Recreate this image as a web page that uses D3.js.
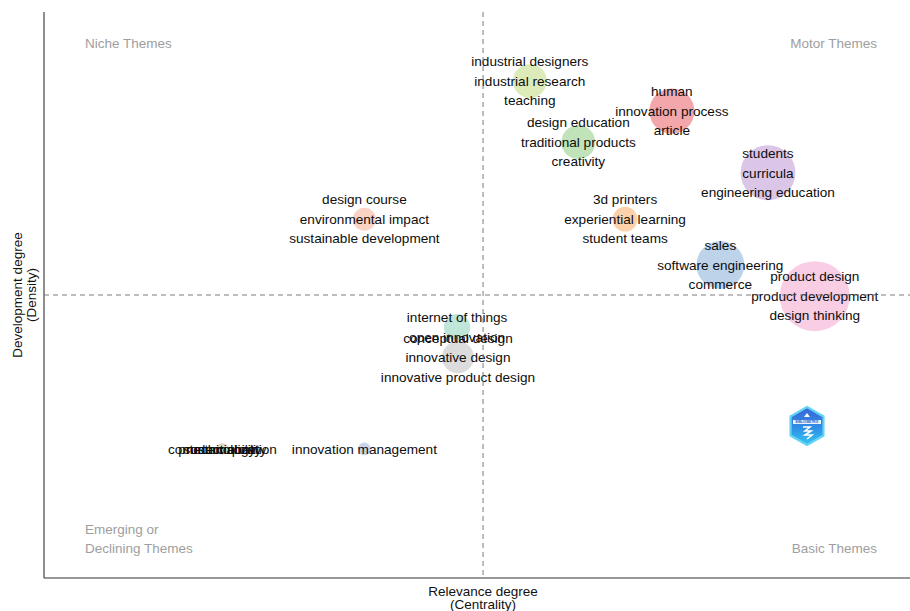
<!DOCTYPE html>
<html>
<head>
<meta charset="utf-8">
<script src="https://cdn.jsdelivr.net/npm/d3@7/dist/d3.min.js"></script>
<style>
  html, body { margin: 0; padding: 0; background: #fff; }
  svg { display: block; font-family: "Liberation Sans", Arial, Helvetica, sans-serif; }
</style>
</head>
<body>
<svg id="chart" width="910" height="611"></svg>
<script>
// Thematic map: each cluster of keywords is placed by centrality (x) and density (y)
const clusterLabels = [
  ["industrial designers", "industrial research", "teaching"],
  ["human", "innovation process", "article"],
  ["design education", "traditional products", "creativity"],
  ["students", "curricula", "engineering education"],
  ["3d printers", "experiential learning", "student teams"],
  ["sales", "software engineering", "commerce"],
  ["product design", "product development", "design thinking"],
  ["design course", "environmental impact", "sustainable development"],
  ["internet of things", "open innovation"],
  ["conceptual design", "innovative design", "innovative product design"],
  ["innovation management"],
  ["commercialization"],
  ["product quality"],
  ["technology"],
  ["sustainability"]
];
const centrality = [5.61, 7.25, 6.17, 8.36, 6.71, 7.81, 8.90, 3.70, 4.77, 4.78, 3.70, 2.06, 2.06, 2.06, 2.06];
const density    = [8.78, 8.25, 7.70, 7.16, 6.34, 5.53, 4.98, 6.34, 4.43, 3.90, 2.28, 2.28, 2.28, 2.28, 2.28];
const frequency  = [28, 50, 28, 74, 15, 56, 120, 13, 17, 25, 4, 3, 3, 2, 2];
const clusterColors = [
  "#dcebb8", "#f3a7aa", "#c0e3ba", "#dcc6e7", "#fdd1aa", "#bdd3ea", "#f9cde4",
  "#fbd3c4", "#bfe6d9", "#dcdcdc", "#c9d5ea", "#f5cfa6", "#e9c3c3", "#d7d7ef", "#d9ecc5"
];
const centralityMean = 5.07;
const densityMean = 5.0;
const quadrantNames = ["Niche Themes", "Motor Themes", "Emerging or\nDeclining Themes", "Basic Themes"];
const axisTitles = { x: ["Relevance degree", "(Centrality)"], y: ["Development degree", "(Density)"] };

const svg = d3.select("#chart");
const plot = { left: 44, right: 910, top: 12, bottom: 578 };

const x = d3.scaleLinear().domain([0, 10]).range([plot.left, plot.right]);
const y = d3.scaleLinear().domain([0, 10]).range([plot.bottom, plot.top]);
const r = d3.scaleSqrt().domain([0, d3.max(frequency)]).range([0, 35]);

const clusters = clusterLabels.map((words, i) => ({
  words, c: centrality[i], d: density[i], f: frequency[i], color: clusterColors[i]
}));

// bubbles
svg.append("g").selectAll("circle")
  .data(clusters)
  .join("circle")
  .attr("cx", d => x(d.c))
  .attr("cy", d => y(d.d))
  .attr("r", d => r(d.f))
  .attr("fill", d => d.color);

// keyword labels, stacked and centred on each bubble
const lineStep = 19.5;
const labelG = svg.append("g")
  .attr("font-size", 13.6)
  .attr("fill", "#0d0d0d")
  .attr("text-anchor", "middle");
clusters.forEach(cl => {
  const n = cl.words.length;
  cl.words.forEach((w, j) => {
    labelG.append("text")
      .attr("x", x(cl.c))
      .attr("y", y(cl.d) + (j - (n - 1) / 2) * lineStep)
      .attr("dy", "0.35em")
      .text(w);
  });
});

// axes frame (left and bottom only)
svg.append("line")
  .attr("x1", plot.left).attr("x2", plot.left)
  .attr("y1", plot.top).attr("y2", plot.bottom)
  .attr("stroke", "#333").attr("stroke-width", 1.1);
svg.append("line")
  .attr("x1", plot.left).attr("x2", plot.right)
  .attr("y1", plot.bottom).attr("y2", plot.bottom)
  .attr("stroke", "#333").attr("stroke-width", 1.1);

// mean reference lines
svg.append("line")
  .attr("x1", plot.left).attr("x2", plot.right)
  .attr("y1", y(densityMean)).attr("y2", y(densityMean))
  .attr("stroke", "#6e6e6e").attr("stroke-width", 0.9)
  .attr("stroke-dasharray", "5,4");
svg.append("line")
  .attr("x1", x(centralityMean)).attr("x2", x(centralityMean))
  .attr("y1", plot.top).attr("y2", plot.bottom)
  .attr("stroke", "#6e6e6e").attr("stroke-width", 0.9)
  .attr("stroke-dasharray", "5,4");

// quadrant names
const qG = svg.append("g").attr("font-size", 13.5).attr("fill", "#9e9e9e");
function multiline(g, txt, px, py, anchor) {
  txt.split("\n").forEach((t, k) => {
    g.append("text").attr("x", px).attr("y", py + k * 19.3)
      .attr("dy", "0.35em").attr("text-anchor", anchor).text(t);
  });
}
multiline(qG, quadrantNames[0], 85, 43, "start");
multiline(qG, quadrantNames[1], 877, 43, "end");
multiline(qG, quadrantNames[2], 85, 529, "start");
multiline(qG, quadrantNames[3], 877, 548, "end");

// axis titles
const tG = svg.append("g").attr("font-size", 13.5).attr("fill", "#111").attr("text-anchor", "middle");
axisTitles.x.forEach((t, k) => {
  tG.append("text").attr("x", x(centralityMean)).attr("y", 591 + k * 13.5).attr("dy", "0.35em").text(t);
});
axisTitles.y.forEach((t, k) => {
  tG.append("text")
    .attr("transform", `translate(${17 + k * 14.5},${y(densityMean)}) rotate(-90)`)
    .attr("dy", "0.35em").text(t);
});

// hexagon badge
const defs = svg.append("defs");
const grad = defs.append("linearGradient").attr("id", "hexFill")
  .attr("x1", 0).attr("y1", 0).attr("x2", 0).attr("y2", 1);
grad.append("stop").attr("offset", "0%").attr("stop-color", "#3b63d6");
grad.append("stop").attr("offset", "55%").attr("stop-color", "#2f8fe6");
grad.append("stop").attr("offset", "100%").attr("stop-color", "#36c6f2");
const hx = 807, hy = 426, hr = 19;
const hexPts = d3.range(6).map(k => {
  const a = Math.PI / 3 * k - Math.PI / 2;
  return [hx + hr * Math.cos(a), hy + hr * Math.sin(a)];
});
const badge = svg.append("g");
badge.append("polygon")
  .attr("points", hexPts.map(p => p.join(",")).join(" "))
  .attr("fill", "url(#hexFill)")
  .attr("stroke", "#63d3f5").attr("stroke-width", 2.2);
badge.append("rect").attr("x", hx - 14).attr("y", hy - 6).attr("width", 28).attr("height", 4)
  .attr("fill", "#ffffff").attr("opacity", 0.9);
badge.append("text").attr("x", hx).attr("y", hy - 4).attr("dy", "0.35em")
  .attr("text-anchor", "middle").attr("font-size", 3.2).attr("font-weight", "bold")
  .attr("fill", "#2a5cc8").text("BIBLIOMETRIX");
badge.append("path")
  .attr("d", `M${hx - 4},${hy + 1} h7 l-5,4 h6 l-6,4 h7 l-5,4`)
  .attr("fill", "none").attr("stroke", "#ffffff").attr("stroke-width", 1.6);
badge.append("path")
  .attr("d", `M${hx - 3},${hy - 9} l3,-4 l3,4 z`)
  .attr("fill", "#ffffff");
</script>
</body>
</html>
